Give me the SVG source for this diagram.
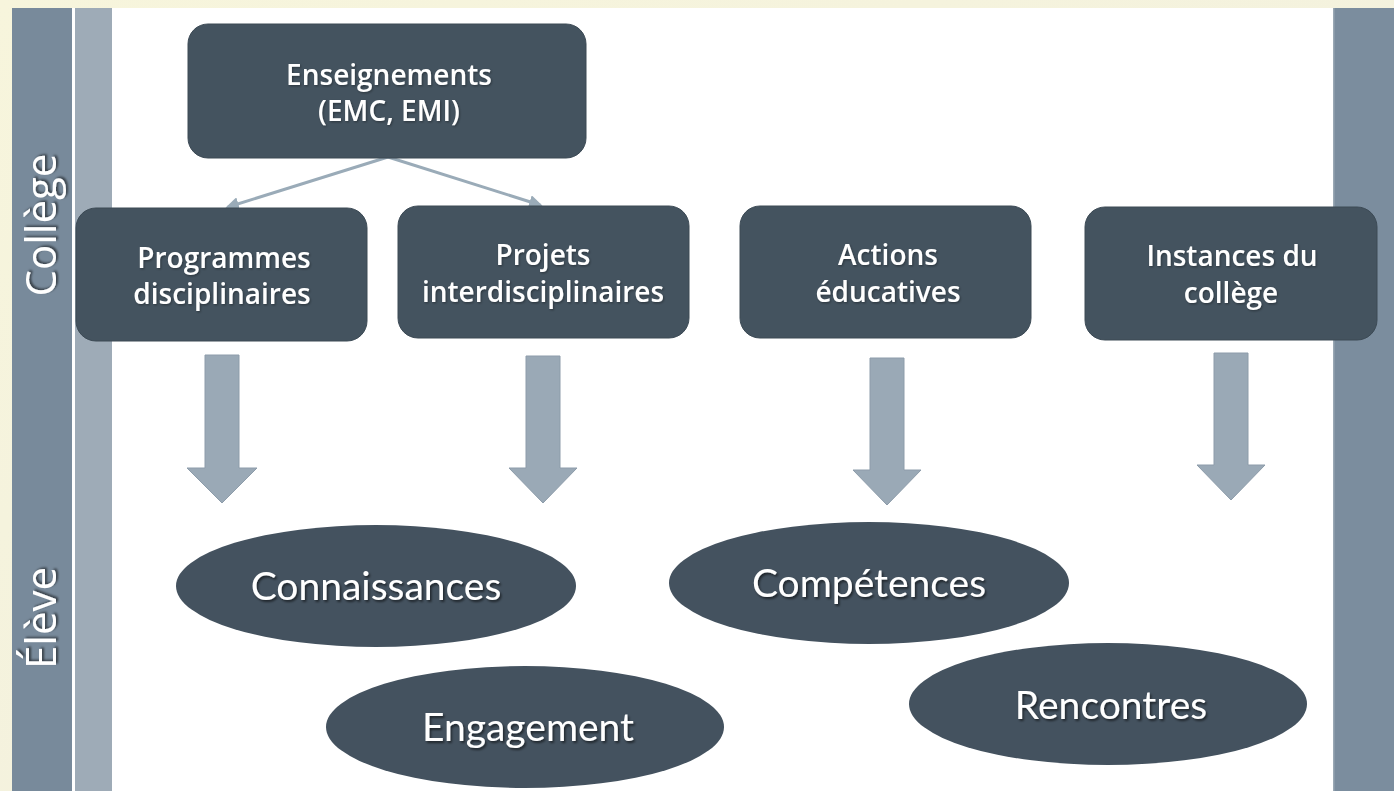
<svg xmlns="http://www.w3.org/2000/svg" width="1394" height="791" viewBox="0 0 1394 791">
<defs>
<linearGradient id="cream" x1="0" y1="0" x2="1" y2="1">
<stop offset="0" stop-color="#f7f5dc"/>
<stop offset="1" stop-color="#f1efdf"/>
</linearGradient>
<filter id="ts" x="-10%" y="-30%" width="130%" height="170%">
<feDropShadow dx="1.5" dy="2" stdDeviation="1.2" flood-color="#000" flood-opacity="0.55"/>
</filter>
<filter id="ts2" x="-10%" y="-30%" width="130%" height="170%">
<feDropShadow dx="1" dy="1.2" stdDeviation="0.8" flood-color="#000" flood-opacity="0.35"/>
</filter>
<marker id="ah" viewBox="0 0 10 10" refX="8" refY="5" markerWidth="4.5" markerHeight="4.5" orient="auto">
<path d="M0,0 L10,5 L0,10 z" fill="#9aabb8"/>
</marker>
</defs>
<style>
.box{fill:#44535f;stroke:#3c4a55;stroke-width:1}
.ell{fill:#44525f}
.bt{font-family:"Open Sans","Noto Sans",sans-serif;font-size:28px;font-weight:600;fill:#fff;text-anchor:middle;filter:url(#ts2)}
.et{font-family:Lato,"Open Sans",sans-serif;font-size:39px;fill:#fff;text-anchor:middle;filter:url(#ts)}
.side{font-family:"Open Sans","Noto Sans",sans-serif;font-size:42px;fill:#fff;text-anchor:middle;filter:url(#ts)}
.blk{fill:#9aa9b6;stroke:#8d9caa;stroke-width:1}
.con{stroke:#9aabb8;stroke-width:3;fill:none;marker-end:url(#ah)}
</style>
<rect x="0" y="0" width="1394" height="791" fill="url(#cream)"/>
<rect x="12" y="8" width="1382" height="783" fill="#ffffff"/>
<rect x="12" y="8" width="60" height="783" fill="#788a9b"/>
<rect x="75" y="8" width="37" height="783" fill="#9eabb7"/>
<rect x="1333" y="8" width="61" height="783" fill="#7b8d9e"/>
<rect x="1333" y="8" width="1.5" height="783" fill="#9aa8b4"/>
<text class="side" transform="translate(56,225) rotate(-90)">Collège</text>
<text class="side" transform="translate(56,618) rotate(-90)">Élève</text>

<g id="connectors">
<line class="con" x1="388" y1="157" x2="228" y2="207"/>
<line class="con" x1="388" y1="157" x2="540" y2="205"/>
<path class="blk" d="M205,355 H239 V468 H257 L222,503 L187,468 H205 Z"/>
<path class="blk" d="M526,356 H560 V468 H577 L543,503 L509,468 H526 Z"/>
<path class="blk" d="M870,358 H904 V470 H921 L887,505 L853,470 H870 Z"/>
<path class="blk" d="M1214,353 H1248 V465 H1265 L1231,500 L1197,465 H1214 Z"/>
</g>

<g id="enseignements">
<rect class="box" x="188" y="24" width="398" height="134" rx="20"/>
<text class="bt" x="389" y="85">Enseignements</text>
<text class="bt" x="389" y="121">(EMC, EMI)</text>
</g>
<g id="programmes">
<rect class="box" x="76" y="208" width="291" height="133" rx="20"/>
<text class="bt" x="224" y="268">Programmes</text>
<text class="bt" x="222" y="304">disciplinaires</text>
</g>
<g id="projets">
<rect class="box" x="398" y="206" width="291" height="132" rx="20"/>
<text class="bt" x="543" y="265">Projets</text>
<text class="bt" x="543" y="302">interdisciplinaires</text>
</g>
<g id="actions">
<rect class="box" x="740" y="206" width="291" height="132" rx="20"/>
<text class="bt" x="888" y="265">Actions</text>
<text class="bt" x="888" y="302">éducatives</text>
</g>
<g id="instances">
<rect class="box" x="1085" y="207" width="292" height="133" rx="20"/>
<text class="bt" x="1232" y="266">Instances du</text>
<text class="bt" x="1231" y="303">collège</text>
</g>

<g id="connaissances">
<ellipse class="ell" cx="376" cy="586" rx="200" ry="61"/>
<text class="et" x="376" y="600">Connaissances</text>
</g>
<g id="engagement">
<ellipse class="ell" cx="525" cy="727" rx="199" ry="61"/>
<text class="et" x="528" y="741">Engagement</text>
</g>
<g id="competences">
<ellipse class="ell" cx="869" cy="583" rx="200" ry="61"/>
<text class="et" x="869" y="597">Compétences</text>
</g>
<g id="rencontres">
<ellipse class="ell" cx="1108" cy="704" rx="199" ry="61"/>
<text class="et" x="1111" y="719">Rencontres</text>
</g>
</svg>
